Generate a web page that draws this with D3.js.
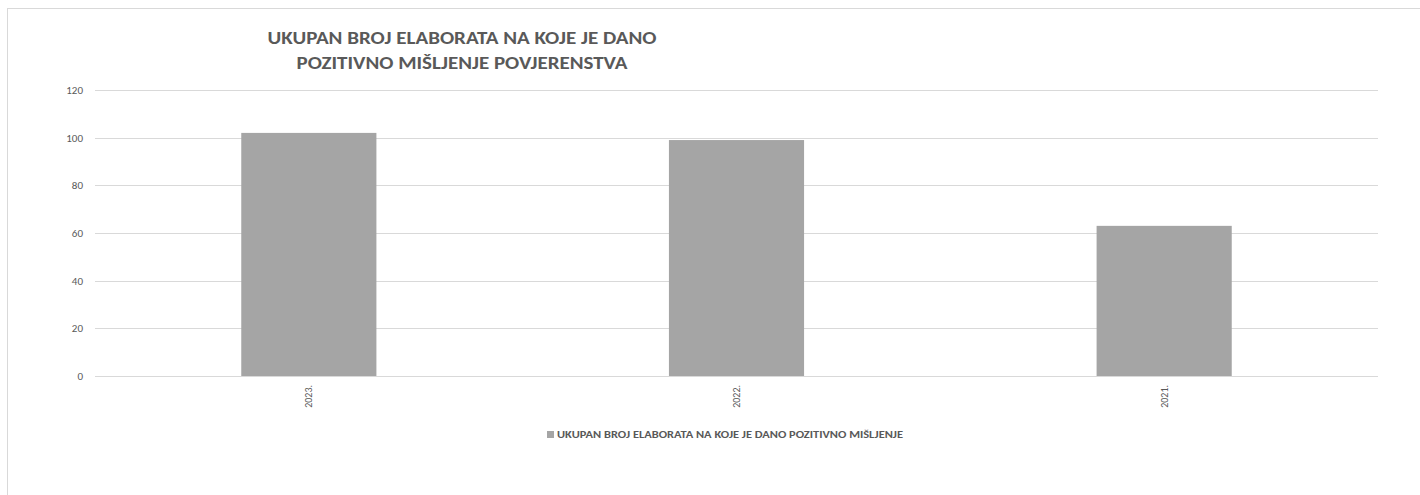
<!DOCTYPE html>
<html><head><meta charset="utf-8">
<script src="https://cdn.jsdelivr.net/npm/d3@7"></script>
<style>body{margin:0;background:#fff}svg{display:block}</style>
</head><body><svg id="c" width="1420" height="495"></svg>
<script>
const categories = ["2023.", "2022.", "2021."];
const values = [102, 99, 63];
const yTicks = [0, 20, 40, 60, 80, 100, 120];
const titleLines = ["UKUPAN BROJ ELABORATA NA KOJE JE DANO", "POZITIVNO MIŠLJENJE POVJERENSTVA"];
const seriesName = "UKUPAN BROJ ELABORATA NA KOJE JE DANO POZITIVNO MIŠLJENJE";

(function () {
const svg = d3.select("#c");
const font = "Carlito, 'Open Sans', Lato, sans-serif";
svg.append("rect").attr("x", 7.5).attr("y", 8.5).attr("width", 1430).attr("height", 500)
  .attr("fill", "#fff").attr("stroke", "#d9d9d9").attr("stroke-width", 1);

const mL = 95, mR = 1378, mT = 90, mB = 376;
const x = d3.scaleBand().domain(categories).range([mL, mR]).paddingInner(0.684).paddingOuter(0.342);
const y = d3.scaleLinear().domain([0, 120]).range([mB, mT]);

const g = svg.append("g");
g.selectAll("line.grid").data(yTicks).join("line")
  .attr("x1", mL).attr("x2", mR)
  .attr("y1", d => Math.round(y(d)) + 0.5).attr("y2", d => Math.round(y(d)) + 0.5)
  .attr("stroke", "#d9d9d9").attr("stroke-width", 1);

const yAxis = g.append("g").attr("transform", `translate(${mL},0)`)
  .call(d3.axisLeft(y).tickValues(yTicks).tickSize(0).tickPadding(12));
yAxis.select(".domain").remove();
yAxis.selectAll("text").attr("font-family", font).attr("font-size", 11).attr("fill", "#595959");

g.selectAll("rect.bar").data(values).join("rect")
  .attr("x", (d, i) => x(categories[i])).attr("width", x.bandwidth())
  .attr("y", d => y(d)).attr("height", d => y(0) - y(d))
  .attr("fill", "#a5a5a5");

const xAxis = g.append("g").attr("transform", `translate(0,${mB})`)
  .call(d3.axisBottom(x).tickSize(0).tickPadding(0));
xAxis.select(".domain").remove();
xAxis.selectAll("text")
  .attr("font-family", font).attr("font-size", 10).attr("fill", "#595959")
  .attr("transform", "rotate(-90)").attr("text-anchor", "end")
  .attr("x", -9).attr("y", 0).attr("dy", "0.35em");

const titleW = [389, 331];
svg.selectAll("text.title").data(titleLines).join("text").attr("class", "title")
  .attr("x", 462).attr("y", (d, i) => 44 + i * 25)
  .attr("text-anchor", "middle").attr("font-family", font).attr("font-weight", "bold")
  .attr("font-size", 17.5).attr("fill", "#595959")
  .attr("textLength", (d, i) => titleW[i]).attr("lengthAdjust", "spacingAndGlyphs")
  .text(d => d);

const lg = svg.append("g");
lg.append("rect").attr("x", 547).attr("y", 431).attr("width", 7).attr("height", 7).attr("fill", "#a5a5a5");
lg.append("text").attr("x", 557).attr("y", 438).attr("font-family", font).attr("font-weight", "bold")
  .attr("font-size", 10).attr("fill", "#595959")
  .attr("textLength", 346).attr("lengthAdjust", "spacingAndGlyphs").text(seriesName);
})();
</script></body></html>
